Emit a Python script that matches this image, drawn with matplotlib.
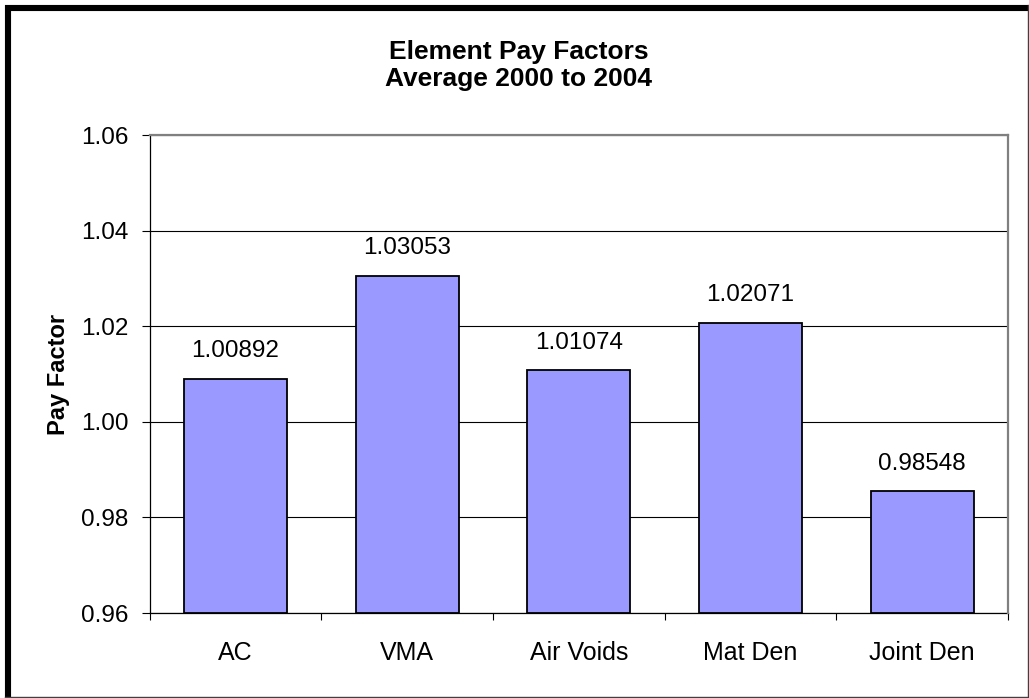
import matplotlib
matplotlib.use("Agg")
import matplotlib.pyplot as plt
from matplotlib.lines import Line2D
from matplotlib.ticker import FixedLocator, FormatStrFormatter

categories = ["AC", "VMA", "Air Voids", "Mat Den", "Joint Den"]
values = [1.00892, 1.03053, 1.01074, 1.02071, 0.98548]
value_labels = ["1.00892", "1.03053", "1.01074", "1.02071", "0.98548"]
y_ticks = [0.96, 0.98, 1.00, 1.02, 1.04, 1.06]

plt.rcParams['font.family'] = ['Liberation Sans', 'DejaVu Sans']

W, H = 1029, 698
fig = plt.figure(figsize=(W / 100, H / 100), dpi=100)
fig.patch.set_facecolor("white")

ax = fig.add_axes([149.5 / W, 1 - 613 / H, (1008 - 149.5) / W, (613 - 135) / H])
x = list(range(len(categories)))
ax.bar(x, [v - 0.96 for v in values], bottom=0.96, width=0.6,
       color="#9999FF", edgecolor="black", linewidth=1.3, zorder=3)

ax.set_xlim(-0.5, len(categories) - 0.5)
ax.set_ylim(0.96, 1.06)
ax.set_yticks(y_ticks)
ax.yaxis.set_major_formatter(FormatStrFormatter("%.2f"))
ax.grid(axis="y", color="black", linewidth=0.8, zorder=1)

ax.set_xticks(x)
ax.set_xticklabels(categories)
ax.xaxis.set_minor_locator(FixedLocator([i - 0.5 for i in range(len(categories) + 1)]))
ax.tick_params(axis="x", which="major", length=0, pad=20, labelsize=18)
ax.tick_params(axis="x", which="minor", length=5, width=0.8, direction="out", color="black")
ax.tick_params(axis="y", length=6, width=0.8, direction="out", pad=9, labelsize=17.5)

for s in ["left", "bottom"]:
    ax.spines[s].set_color("black")
    ax.spines[s].set_linewidth(0.9)
for s in ["top", "right"]:
    ax.spines[s].set_color("#808080")
    ax.spines[s].set_linewidth(1.6)
    ax.spines[s].set_zorder(4)

for xi, v, lab in zip(x, values, value_labels):
    ax.annotate(lab, (xi, v), xytext=(0, 12), textcoords="offset points",
                ha="center", va="bottom", fontsize=17.5)

ax.set_ylabel("Pay Factor", fontsize=17, fontweight="bold", labelpad=8)

fig.text(0.5 * (387 + 650) / W, 1 - 52 / H, "Element Pay Factors",
         ha="center", va="center", fontsize=19, fontweight="bold")
fig.text(0.5 * (387 + 650) / W, 1 - 79 / H, "Average 2000 to 2004",
         ha="center", va="center", fontsize=19, fontweight="bold")

# outer border
fig.add_artist(Line2D([8 / W, 8 / W], [1 - 5 / H, 1 - 697.5 / H], transform=fig.transFigure,
                      color="black", linewidth=4.4, solid_capstyle="butt"))
fig.add_artist(Line2D([5 / W, 1028 / W], [1 - 8 / H, 1 - 8 / H], transform=fig.transFigure,
                      color="black", linewidth=4.4, solid_capstyle="butt"))
fig.add_artist(Line2D([1027.5 / W, 1027.5 / W], [1 - 5 / H, 1 - 698 / H], transform=fig.transFigure,
                      color="#404040", linewidth=1.0))
fig.add_artist(Line2D([5 / W, 1028 / W], [1 - 697 / H, 1 - 697 / H], transform=fig.transFigure,
                      color="#404040", linewidth=1.0))

fig.savefig("out.png", dpi=100, facecolor="white")
